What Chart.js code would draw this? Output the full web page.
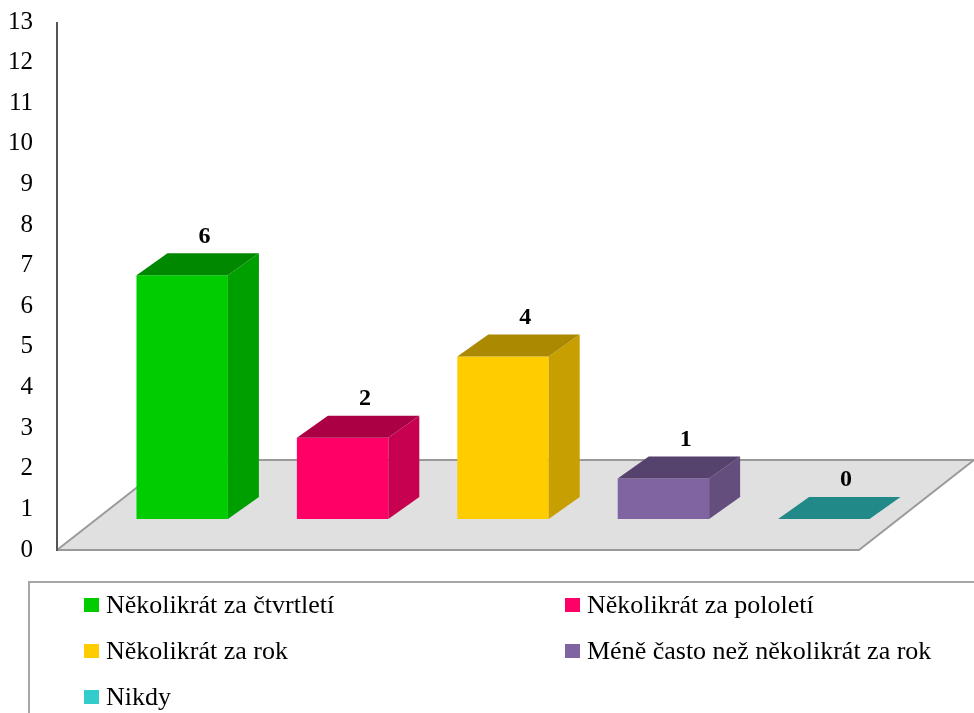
<!DOCTYPE html>
<html>
<head>
<meta charset="utf-8">
<script src="https://cdn.jsdelivr.net/npm/chart.js@4/dist/chart.umd.min.js"></script>
<style>
  html, body { margin: 0; padding: 0; background: #ffffff; }
  canvas { display: block; }
</style>
</head>
<body>
<canvas id="c" width="974" height="713"></canvas>
<script>
// ---- data ----
const categories = [
  'Několikrát za čtvrtletí',
  'Několikrát za pololetí',
  'Několikrát za rok',
  'Méně často než několikrát za rok',
  'Nikdy'
];
const values = [6, 2, 4, 1, 0];
const yTicks = [0, 13]; // axis range min/max
const frontColors = ['#00CC00', '#FF0066', '#FFCC00', '#8064A2', '#33CCCC'];

// ---- styling helpers ----
function shade(hex, f) {
  const n = parseInt(hex.slice(1), 16);
  const r = Math.round(((n >> 16) & 255) * f);
  const g = Math.round(((n >> 8) & 255) * f);
  const b = Math.round((n & 255) * f);
  return 'rgb(' + r + ',' + g + ',' + b + ')';
}
const DEPTH = { dx: 31, dy: -22 };         // bar depth projection
const PLANE_DY = -31;                      // bar plane lifted above floor front edge
const FLOOR = { frontDx: -45, backDx: 70, backDy: -90 };
const SERIF = "'Liberation Serif', 'Times New Roman', serif";

const threeD = {
  id: 'threeD',
  beforeDatasetsDraw(chart) {
    const ctx = chart.ctx, a = chart.chartArea;
    const ys = chart.scales.y;
    const y0 = ys.getPixelForValue(yTicks[0]);
    const yTop = ys.getPixelForValue(yTicks[1]);
    // floor
    ctx.save();
    ctx.beginPath();
    ctx.moveTo(a.left + FLOOR.frontDx, y0);
    ctx.lineTo(a.right + FLOOR.frontDx, y0);
    ctx.lineTo(a.right + FLOOR.backDx, y0 + FLOOR.backDy);
    ctx.lineTo(a.left + FLOOR.backDx, y0 + FLOOR.backDy);
    ctx.closePath();
    ctx.fillStyle = '#E0E0E0';
    ctx.fill();
    ctx.strokeStyle = '#9A9A9A';
    ctx.lineWidth = 2;
    ctx.lineJoin = 'round';
    ctx.stroke();
    // vertical axis
    ctx.beginPath();
    ctx.moveTo(a.left + FLOOR.frontDx, y0 + 1);
    ctx.lineTo(a.left + FLOOR.frontDx, yTop);
    ctx.strokeStyle = '#555555';
    ctx.lineWidth = 2;
    ctx.stroke();
    ctx.restore();
    // lift the bar plane
    ctx.save();
    ctx.translate(0, PLANE_DY);
  },
  afterDatasetsDraw(chart) {
    const ctx = chart.ctx;
    const meta = chart.getDatasetMeta(0);
    meta.data.forEach((bar, i) => {
      const p = bar.getProps(['x', 'y', 'base', 'width'], true);
      const l = p.x - p.width / 2, r = p.x + p.width / 2;
      const top = p.y, base = p.base;
      const col = frontColors[i];
      // side face
      if (base - top > 0.5) {
        ctx.beginPath();
        ctx.moveTo(r, base);
        ctx.lineTo(r + DEPTH.dx, base + DEPTH.dy);
        ctx.lineTo(r + DEPTH.dx, top + DEPTH.dy);
        ctx.lineTo(r, top);
        ctx.closePath();
        ctx.fillStyle = shade(col, 0.78);
        ctx.fill();
      }
      // top face
      ctx.beginPath();
      ctx.moveTo(l, top);
      ctx.lineTo(r, top);
      ctx.lineTo(r + DEPTH.dx, top + DEPTH.dy);
      ctx.lineTo(l + DEPTH.dx, top + DEPTH.dy);
      ctx.closePath();
      ctx.fillStyle = shade(col, 0.67);
      ctx.fill();
      // value label
      ctx.fillStyle = '#000000';
      ctx.font = 'bold 24px ' + SERIF;
      ctx.textAlign = 'center';
      ctx.textBaseline = 'middle';
      ctx.fillText(String(values[i]), p.x + DEPTH.dx * 0.72, top + DEPTH.dy - 17);
    });
    ctx.restore();
  },
  afterDraw(chart) {
    const ctx = chart.ctx;
    const W = chart.width, H = chart.height;
    const lg = { top: 582, left: 29, cols: [84, 565], rowY: [605, 651, 697], box: 14, gap: 8 };
    ctx.save();
    ctx.strokeStyle = '#A6A6A6';
    ctx.lineWidth = 2;
    ctx.beginPath();
    ctx.moveTo(lg.left, H);
    ctx.lineTo(lg.left, lg.top);
    ctx.lineTo(W, lg.top);
    ctx.stroke();
    ctx.font = '26px ' + SERIF;
    ctx.textBaseline = 'middle';
    ctx.textAlign = 'left';
    categories.forEach((c, i) => {
      const x = lg.cols[i % 2];
      const y = lg.rowY[Math.floor(i / 2)];
      ctx.fillStyle = frontColors[i];
      ctx.fillRect(x, y - lg.box / 2, lg.box + 1, lg.box);
      ctx.fillStyle = '#000000';
      ctx.fillText(c, x + lg.box + lg.gap, y + 1);
    });
    ctx.restore();
  }
};

new Chart(document.getElementById('c'), {
  type: 'bar',
  data: {
    labels: categories,
    datasets: [{
      data: values,
      backgroundColor: frontColors,
      borderWidth: 0,
      barPercentage: 0.57,
      categoryPercentage: 1
    }]
  },
  options: {
    responsive: false,
    animation: false,
    devicePixelRatio: 1,
    layout: { padding: { top: 22, bottom: 163, right: 70, left: 0 } },
    plugins: { legend: { display: false }, tooltip: { enabled: false } },
    scales: {
      x: { display: false, offset: true },
      y: {
        min: yTicks[0],
        max: yTicks[1],
        ticks: {
          stepSize: 1,
          padding: 69,
          color: '#000000',
          font: { family: SERIF, size: 25 }
        },
        grid: { display: false, drawTicks: false },
        border: { display: false },
        afterFit(s) { s.width = 102; s.paddingTop = 15; s.paddingBottom = 15; }
      }
    }
  },
  plugins: [threeD]
});
</script>
</body>
</html>
